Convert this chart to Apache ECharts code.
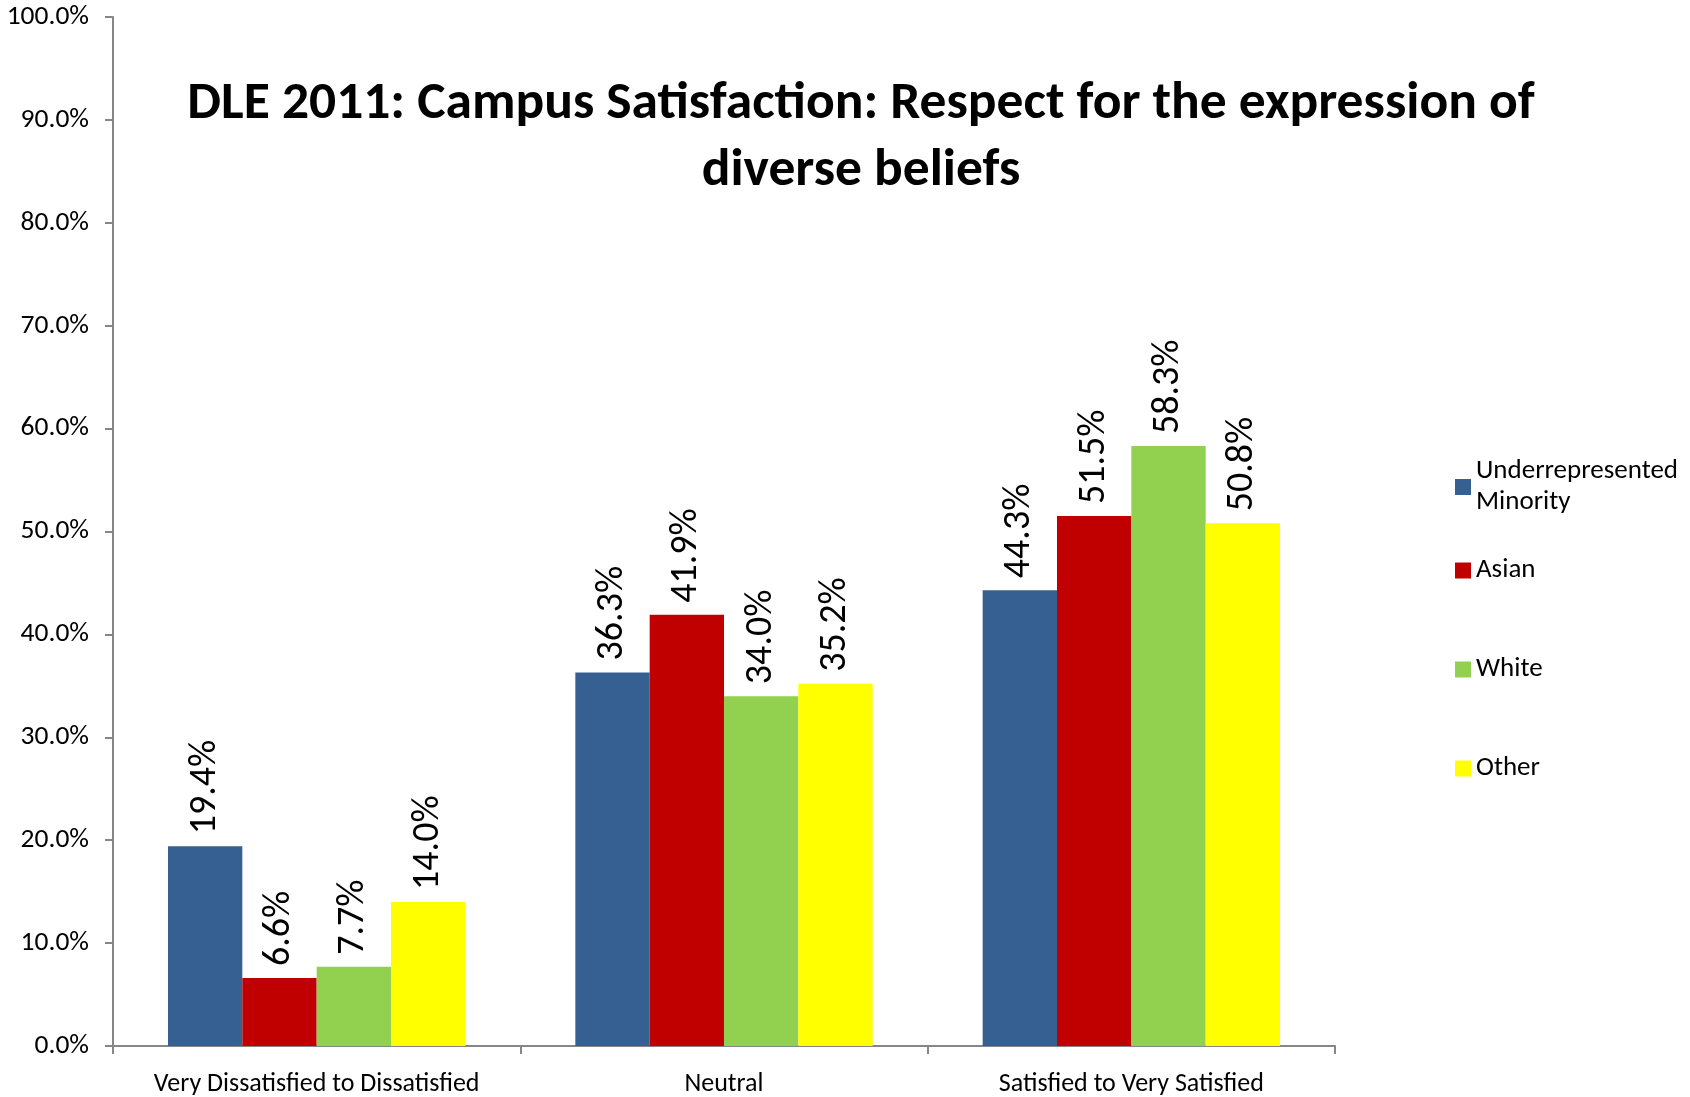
<!DOCTYPE html>
<html>
<head>
<meta charset="utf-8">
<script src="https://cdn.jsdelivr.net/npm/echarts@6/dist/echarts.min.js"></script>
<style>html,body{margin:0;padding:0;background:#fff}#c{width:1690px;height:1097px}</style>
</head>
<body>
<div id="c"></div>
<script>
var categories = ['Very Dissatisfied to Dissatisfied', 'Neutral', 'Satisfied to Very Satisfied'];
var seriesNames = ['Underrepresented\nMinority', 'Asian', 'White', 'Other'];
var urm = [19.4, 36.3, 44.3];
var asian = [6.6, 41.9, 51.5];
var white = [7.7, 34.0, 58.3];
var other = [14.0, 35.2, 50.8];
var yTicks = [0, 10, 20, 30, 40, 50, 60, 70, 80, 90, 100];
var titleText = 'DLE 2011: Campus Satisfaction: Respect for the expression of\ndiverse beliefs';

var colors = ['#366092', '#C00000', '#92D050', '#FFFF00'];
var values = [urm, asian, white, other];
var font = 'Carlito, "Liberation Sans Narrow", "Open Sans", sans-serif';

var chart = echarts.init(document.getElementById('c'));
var series = values.map(function (v, i) {
  return {
    name: seriesNames[i],
    type: 'bar',
    data: v,
    barGap: '0%',
    barCategoryGap: '27%',
    itemStyle: { color: colors[i] },
    label: {
      show: true,
      position: 'top',
      rotate: 90,
      align: 'left',
      verticalAlign: 'middle',
      distance: 12,
      fontSize: 38,
      fontFamily: font,
      color: '#000',
      formatter: function (p) { return p.value.toFixed(1) + '%'; }
    }
  };
});
var legendTops = [451, 550, 649, 748];
var legends = seriesNames.map(function (n, i) {
  return {
    data: [n],
    left: 1450,
    top: legendTops[i],
    orient: 'vertical',
    icon: 'rect',
    itemWidth: 16,
    itemHeight: 16,
    itemGap: 6,
    textStyle: { fontSize: 27, fontFamily: font, color: '#000', lineHeight: 31 },
    selectedMode: false
  };
});
chart.setOption({
  backgroundColor: '#fff',
  animation: false,
  title: {
    text: titleText,
    left: 856,
    textAlign: 'center',
    top: 66,
    textStyle: { fontSize: 53.5, fontWeight: 'bold', fontFamily: font, color: '#000', lineHeight: 67 }
  },
  legend: legends,
  grid: { left: 113, right: 355, top: 17, bottom: 50, containLabel: false },
  xAxis: {
    type: 'category',
    data: categories,
    axisLine: { lineStyle: { color: '#868686', width: 2 } },
    axisTick: { show: true, interval: 0, length: 8, lineStyle: { color: '#868686', width: 2 } },
    axisLabel: { interval: 0, fontSize: 26, fontFamily: font, color: '#000', margin: 25 }
  },
  yAxis: {
    type: 'value',
    min: yTicks[0],
    max: yTicks[yTicks.length - 1],
    interval: 10,
    splitLine: { show: false },
    axisLine: { show: true, lineStyle: { color: '#868686', width: 2 } },
    axisTick: { show: true, length: 8, lineStyle: { color: '#868686', width: 2 } },
    axisLabel: { fontSize: 27.5, fontFamily: font, color: '#000', margin: 24,
      formatter: function (v) { return v.toFixed(1) + '%'; } }
  },
  series: series
});
</script>
</body>
</html>
